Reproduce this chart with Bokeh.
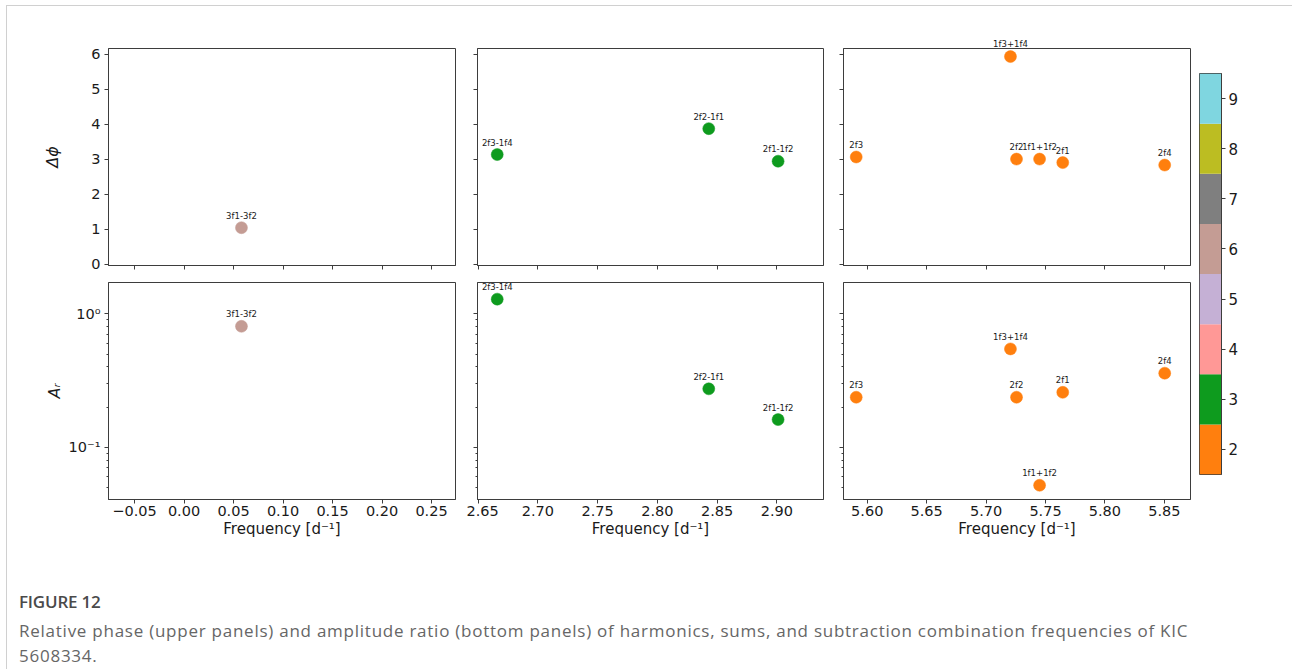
import math
from bokeh.plotting import figure
from bokeh.models import (Range1d, FixedTicker, CustomJSTickFormatter, ColumnDataSource,
                          Label, Div)
from bokeh.layouts import row, column
from bokeh.embed import file_html
from bokeh.resources import INLINE

# ---------------- data ----------------
freq_low = [0.058]
label_low = ["3f1-3f2"]
phase_low = [1.05]
amp_low = [0.807]
order_low = [6]

freq_mid = [2.666, 2.843, 2.901]
label_mid = ["2f3-1f4", "2f2-1f1", "2f1-1f2"]
phase_mid = [3.14, 3.88, 2.95]
amp_mid = [1.29, 0.274, 0.161]
order_mid = [3, 3, 3]

freq_high = [5.5907, 5.7205, 5.7256, 5.745, 5.7645, 5.8503]
label_high = ["2f3", "1f3+1f4", "2f2", "1f1+1f2", "2f1", "2f4"]
phase_high = [3.07, 5.94, 3.01, 3.01, 2.91, 2.84]
amp_high = [0.237, 0.546, 0.237, 0.0518, 0.258, 0.359]
order_high = [2, 2, 2, 2, 2, 2]

cbar_orders = [2, 3, 4, 5, 6, 7, 8, 9]
cbar_colors = ["#ff7f0e", "#0e9b1e", "#ff9896", "#c5b0d5", "#c49c94", "#7f7f7f", "#bcbd22", "#7fd6e0"]

xticks_low = [-0.05, 0.0, 0.05, 0.10, 0.15, 0.20, 0.25]
xticks_mid = [2.65, 2.70, 2.75, 2.80, 2.85, 2.90]
xticks_high = [5.60, 5.65, 5.70, 5.75, 5.80, 5.85]
phase_ticks = [0, 1, 2, 3, 4, 5, 6]
amp_ticks = [0.1, 1.0]
amp_minor_ticks = [0.04, 0.05, 0.06, 0.07, 0.08, 0.09, 0.2, 0.3, 0.4, 0.5, 0.6, 0.7, 0.8, 0.9]

caption_title = "FIGURE 12"
caption_line1 = ("Relative phase (upper panels) and amplitude ratio (bottom panels) of harmonics, sums, "
                 "and subtraction combination frequencies of KIC")
caption_line2 = "5608334."

# ---------------- style ----------------
FONT = "DejaVu Sans"
EDGE = "#3d3d3d"
LABEL_PX = 8.5
FRAME_H = 217
color_of = {o: c for o, c in zip(cbar_orders, cbar_colors)}

# approximate DejaVu Sans advance widths (em) for the label characters
CHAR_EM = {"1": 0.636, "2": 0.636, "3": 0.636, "4": 0.636, "f": 0.352, "+": 0.838, "-": 0.361}

fixed_fmt = CustomJSTickFormatter(code="return tick.toFixed(2).replace('-', '\u2212');")
int_fmt = CustomJSTickFormatter(code="return tick.toFixed(0);")
blank_fmt = CustomJSTickFormatter(code="return '';")
log_fmt = CustomJSTickFormatter(code="""
const sup = {'-': '\u207b', '0': '\u2070', '1': '\u00b9', '2': '\u00b2', '3': '\u00b3',
             '4': '\u2074', '5': '\u2075', '6': '\u2076', '7': '\u2077', '8': '\u2078', '9': '\u2079'};
const e = Math.round(Math.log10(tick));
return '10' + String(e).split('').map(c => sup[c]).join('');
""")


def style_axis(ax, show_labels):
    ax.axis_line_color = EDGE
    ax.major_tick_line_color = EDGE
    ax.minor_tick_line_color = EDGE
    ax.major_tick_out = 4
    ax.major_tick_in = 0
    ax.minor_tick_out = 2
    ax.minor_tick_in = 0
    ax.major_label_text_font = FONT
    ax.major_label_text_color = "#1a1a1a"
    ax.axis_label_text_font = FONT
    ax.axis_label_text_color = "#1a1a1a"
    ax.axis_label_text_font_style = "normal"
    if show_labels:
        ax.major_label_text_font_size = "14.5px"
    else:
        ax.formatter = blank_fmt
        ax.major_label_text_font_size = "1px"
        ax.major_label_standoff = 0


def panel(freqs, vals, labels, orders, xr, xticks, log, fw, mbl, mbr, mbt, mbb,
          show_x, show_y, ylabel=None, ylabel_standoff=0):
    yr = (0.0405, 1.72) if log else (-0.03, 6.17)
    p = figure(x_range=Range1d(*xr), y_range=Range1d(*yr),
               y_axis_type="log" if log else "linear",
               frame_width=fw, frame_height=FRAME_H,
               min_border_left=mbl, min_border_right=mbr,
               min_border_top=mbt, min_border_bottom=mbb,
               output_backend="svg", toolbar_location=None)
    p.grid.visible = False
    p.outline_line_color = EDGE
    p.outline_line_width = 1
    p.background_fill_color = "white"
    p.border_fill_color = "white"

    p.xaxis.ticker = FixedTicker(ticks=xticks)
    p.xaxis.formatter = fixed_fmt
    style_axis(p.xaxis[0], show_x)
    p.xaxis.minor_tick_line_color = None
    if show_x:
        p.xaxis.major_label_standoff = 2
        p.xaxis.axis_label = "Frequency [d\u207b\u00b9]"
        p.xaxis.axis_label_text_font_size = "15px"
        p.xaxis.axis_label_standoff = 1

    if log:
        p.yaxis.ticker = FixedTicker(ticks=amp_ticks, minor_ticks=amp_minor_ticks)
        p.yaxis.formatter = log_fmt
    else:
        p.yaxis.ticker = FixedTicker(ticks=phase_ticks)
        p.yaxis.formatter = int_fmt
        p.yaxis.minor_tick_line_color = None
    style_axis(p.yaxis[0], show_y)
    if show_y:
        p.yaxis.major_label_standoff = 4
        p.yaxis.axis_label = ylabel
        p.yaxis.axis_label_text_font_size = "16px"
        p.yaxis.axis_label_text_font_style = "italic"
        p.yaxis.axis_label_standoff = ylabel_standoff

    src = ColumnDataSource(dict(freq=freqs, val=vals,
                                color=[color_of[o] for o in orders]))
    p.scatter(x="freq", y="val", source=src, size=12, fill_color="color",
              line_color="color", line_width=0.5)

    for f, v, t in zip(freqs, vals, labels):
        if log:
            frac_y = (math.log10(v) - math.log10(yr[0])) / (math.log10(yr[1]) - math.log10(yr[0]))
        else:
            frac_y = (v - yr[0]) / (yr[1] - yr[0])
        label_top_px = frac_y * FRAME_H + 7 + LABEL_PX
        if label_top_px <= FRAME_H:
            p.add_layout(Label(x=f, y=v, text=t, text_align="center", text_baseline="bottom",
                               y_offset=7, text_font=FONT, text_font_size=f"{LABEL_PX}px",
                               text_color="#1a1a1a"))
        else:
            # label would stick out above the frame: draw it in the title band instead
            frac_x = (f - xr[0]) / (xr[1] - xr[0])
            width = sum(CHAR_EM.get(ch, 0.6) for ch in t) * LABEL_PX
            p.title.text = t
            p.title.align = "left"
            p.title.offset = frac_x * fw - width / 2
            p.title.standoff = 0
            p.title.vertical_align = "bottom"
            p.title.text_font = FONT
            p.title.text_font_size = f"{LABEL_PX}px"
            p.title.text_font_style = "normal"
            p.title.text_color = "#1a1a1a"
    return p


XR_LOW = (-0.0763, 0.2742)
XR_MID = (2.6495, 2.939)
XR_HIGH = (5.580, 5.872)

# layout origin (inside the light frame) is at screen (7, 6)
TOP = 42
LEFT = 101

# top row (relative phase)
t1 = panel(freq_low, phase_low, label_low, order_low, XR_LOW, xticks_low, False,
           347, LEFT, 11, TOP, 10, False, True, "\u0394\u03d5", 26)
t2 = panel(freq_mid, phase_mid, label_mid, order_mid, XR_MID, xticks_mid, False,
           346, 11, 10, TOP, 10, False, False)
t3 = panel(freq_high, phase_high, label_high, order_high, XR_HIGH, xticks_high, False,
           347, 10, 4, TOP, 10, False, False)
# bottom row (amplitude ratio)
b1 = panel(freq_low, amp_low, label_low, order_low, XR_LOW, xticks_low, True,
           347, LEFT, 11, 7, 50, True, True, "A\u1d63", 2)
b2 = panel(freq_mid, amp_mid, label_mid, order_mid, XR_MID, xticks_mid, True,
           346, 11, 10, 7, 50, True, False)
b3 = panel(freq_high, amp_high, label_high, order_high, XR_HIGH, xticks_high, True,
           347, 10, 4, 7, 50, True, False)

# colorbar
cb = figure(x_range=Range1d(0, 1), y_range=Range1d(1.5, 9.5), y_axis_location="right",
            frame_width=22, frame_height=401, min_border_left=5, min_border_right=48,
            min_border_top=TOP + 25, min_border_bottom=543 - (TOP + 25) - 401,
            output_backend="svg", toolbar_location=None)
cb.grid.visible = False
cb.xaxis.visible = False
cb.outline_line_color = EDGE
cb.border_fill_color = "white"
cb_src = ColumnDataSource(dict(bottom=[o - 0.5 for o in cbar_orders],
                               top=[o + 0.5 for o in cbar_orders],
                               color=cbar_colors))
cb.quad(left=0, right=1, bottom="bottom", top="top", fill_color="color",
        line_color=None, source=cb_src)
cb.yaxis.ticker = FixedTicker(ticks=cbar_orders)
cb.yaxis.formatter = int_fmt
style_axis(cb.yaxis[0], True)
cb.yaxis.minor_tick_line_color = None
cb.yaxis.major_label_standoff = 3
cb.yaxis.major_label_text_font_size = "15px"
cb.add_layout(Label(x=1.9, y=5.01, text="Combination orders", angle=math.pi / 2,
                    text_align="center", text_baseline="middle",
                    text_font=FONT, text_font_size="15px", text_color="#1a1a1a"))

caption = Div(text=(
    "<div style=\"padding-left:7px; white-space:nowrap; font-family:'Open Sans'; \">"
    "<div style='margin-top:35px; font-size:17px; line-height:25px; color:#4a4a4a; "
    "font-weight:600; letter-spacing:-0.2px;'>" + caption_title + "</div>"
    "<div style='margin-top:4px; font-size:17px; line-height:25px; color:#666666; "
    "letter-spacing:0.75px;'>"
    + caption_line1 + "<br>" + caption_line2 + "</div></div>"),
    width=1283, height=112)

grid = column(row(t1, t2, t3), row(b1, b2, b3))
main = row(grid, cb)
page = column(main, caption, styles={
    "margin-left": "6px", "margin-top": "5px",
    "border-left": "1px solid #d0d0d0", "border-top": "1px solid #d0d0d0",
    "border-right": "1px solid #d0d0d0"})

with open("out.html", "w") as f:
    f.write(file_html(page, INLINE))
